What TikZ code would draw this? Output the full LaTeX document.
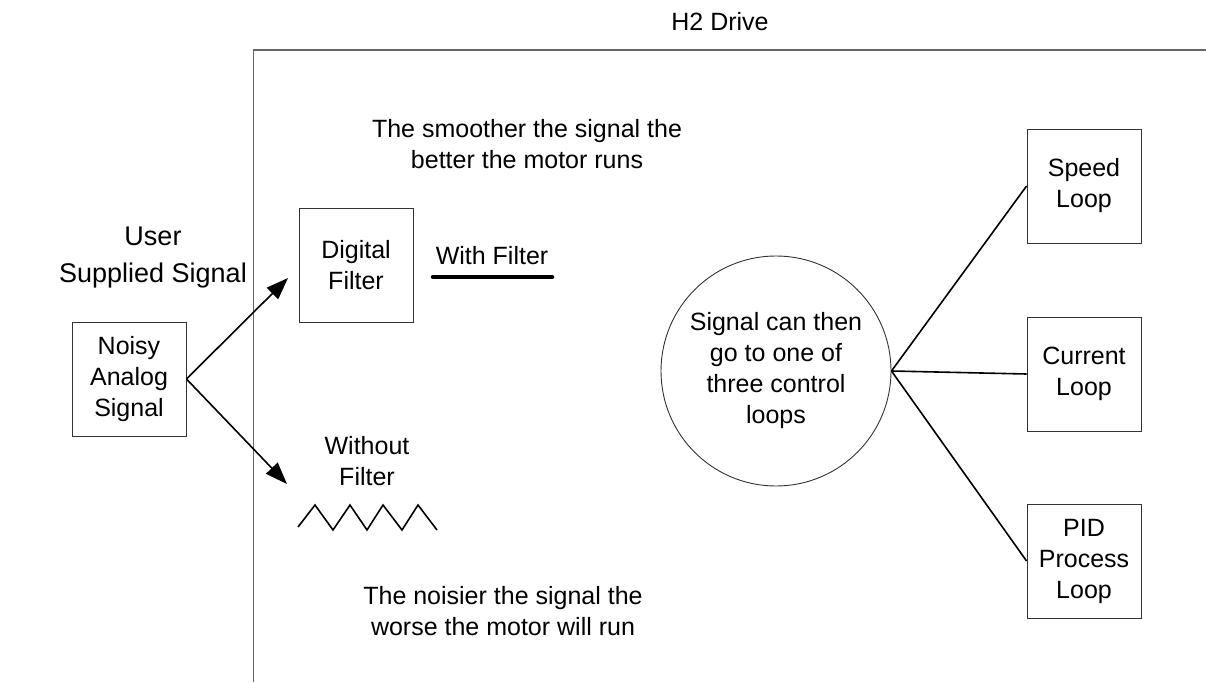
\documentclass[tikz,border=0pt]{standalone}
\usepackage{fontspec}
\setmainfont{Liberation Sans}
\usetikzlibrary{arrows.meta}
\begin{document}
\begin{tikzpicture}[x=1pt,y=-1pt,
  txt/.style={font=\fontsize{25}{31}\selectfont, align=center, inner sep=0pt},
  blockbox/.style={draw=black!80, line width=0.9pt, minimum width=114pt, minimum height=114pt,
    inner sep=0pt, align=center, font=\fontsize{25}{31}\selectfont},
  link/.style={line width=1.6pt},
  feed/.style={line width=1.6pt, -{Triangle[length=22pt,width=16pt]}},
  frame/.style={draw=black!60, line width=1.2pt}]
\useasboundingbox (0,0) rectangle (1206,682);

% drive enclosure
\coordinate (fb) at (253.5,682);
\coordinate (fc) at (253.5,50);
\coordinate (fr) at (1206,50);
\draw[frame] (fb) -- (fc) -- (fr);
\node[txt] (title) at (720,22) {H2 Drive};

% user side
\node[txt, font=\fontsize{27}{37}\selectfont] (user) at (153,258) {User\\Supplied Signal};
\node[blockbox] (noisy) at (129,379) {Noisy\\Analog\\Signal};

% filter branch
\node[blockbox] (digital) at (356,265) {Digital\\Filter};
\node[txt] (with) at (492,256) {With Filter};
\coordinate (sa) at (433,277);
\coordinate (sb) at (552,277);
\draw[line width=4.5pt, line cap=round] (sa) -- (sb);

\node[txt] (without) at (367,461) {Without\\Filter};
\coordinate (z0) at (298,527);
\draw[line width=1.6pt] (z0) -- ++(17,-22) -- ++(18,25) -- ++(17,-25) -- ++(17,25)
  -- ++(16,-25) -- ++(19,25) -- ++(16,-25) -- ++(19,25);

\coordinate (up) at (288,278);
\coordinate (dn) at (287,484);
\draw[feed] (noisy.east) -- (up);
\draw[feed] (noisy.east) -- (dn);

\node[txt] (smooth) at (527,144) {The smoother the signal the\\better the motor runs};
\node[txt] (noisier) at (503,611) {The noisier the signal the\\worse the motor will run};

% control loops
\node[circle, draw=black!80, line width=0.9pt, minimum size=230pt, inner sep=0pt,
  align=center, font=\fontsize{25}{31}\selectfont] (hub) at (776,371)
  {Signal can then\\go to one of\\three control\\loops};
\node[blockbox] (speed) at (1084,186) {Speed\\Loop};
\node[blockbox] (current) at (1084,374) {Current\\Loop};
\node[blockbox] (pid) at (1084,561) {PID\\Process\\Loop};
\draw[link] (hub.east) -- (speed.west);
\draw[link] (hub.east) -- (current.west);
\draw[link] (hub.east) -- (pid.west);
\end{tikzpicture}
\end{document}
